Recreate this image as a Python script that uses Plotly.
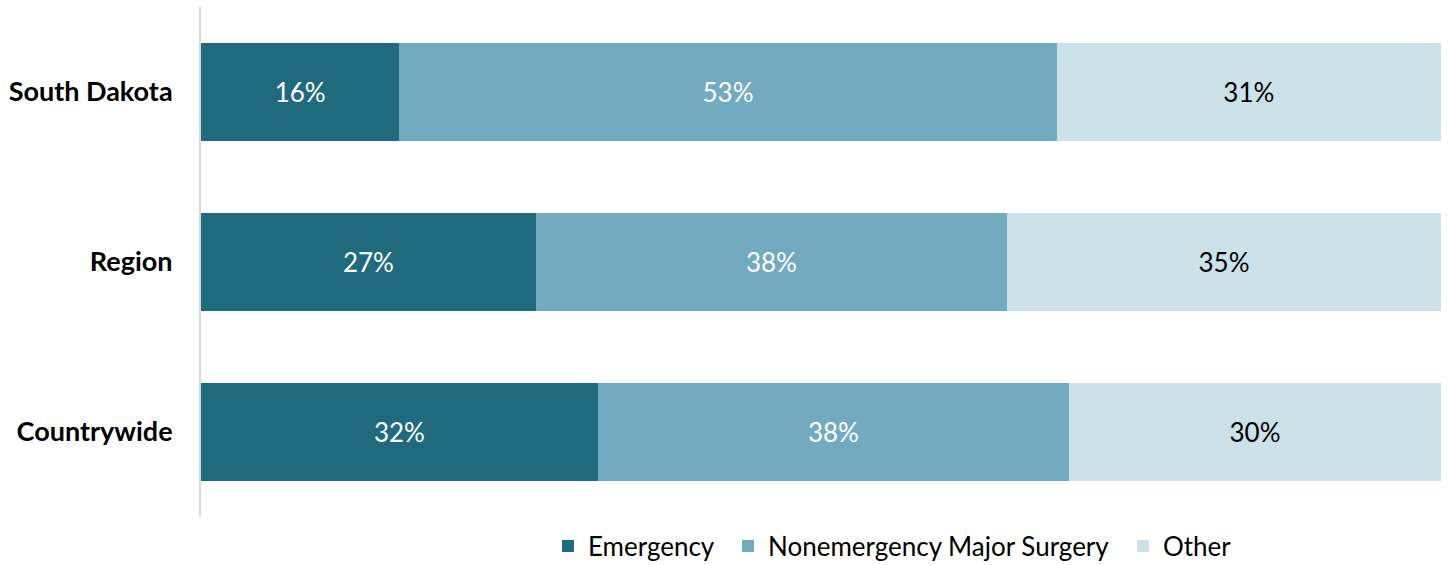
import plotly.graph_objects as go

categories = ["South Dakota", "Region", "Countrywide"]
emergency = [16, 27, 32]
nonemergency = [53, 38, 38]
other = [31, 35, 30]

series = [
    ("Emergency", emergency, "#1f6a7c", "white"),
    ("Nonemergency Major Surgery", nonemergency, "#72abbf", "white"),
    ("Other", other, "#cde1e8", "black"),
]

FONT = "Lato, Calibri, Arial, sans-serif"

# each series gets its own legend so the entries can be spaced freely
legend_ids = ["legend", "legend2", "legend3"]
legend_x = [0.2798, 0.425, 0.7435]

fig = go.Figure()
for (name, vals, color, tcolor), lid in zip(series, legend_ids):
    fig.add_trace(go.Bar(
        name=name,
        y=categories,
        x=vals,
        orientation="h",
        marker=dict(color=color, line=dict(width=0)),
        text=[f"{v}%" for v in vals],
        textposition="inside",
        insidetextanchor="middle",
        textfont=dict(color=tcolor, size=26, family=FONT),
        hoverinfo="skip",
        legend=lid,
    ))

legend_style = dict(orientation="h", xanchor="left",
                    yref="container", y=19 / 565, yanchor="middle",
                    font=dict(family=FONT, size=26, color="black"),
                    itemwidth=30, bgcolor="rgba(0,0,0,0)")

fig.update_layout(
    barmode="stack",
    bargap=0.42,
    width=1448,
    height=565,
    margin=dict(l=201, r=7, t=7, b=48, autoexpand=False),
    plot_bgcolor="white",
    paper_bgcolor="white",
    font=dict(family=FONT, size=26, color="black"),
    xaxis=dict(range=[0, 100], showgrid=False, showticklabels=False,
               zeroline=False, showline=False, fixedrange=True),
    yaxis=dict(autorange="reversed", showgrid=False, zeroline=False,
               showline=True, linecolor="#d9d9d9", linewidth=2,
               ticks="", ticklabelstandoff=21,
               tickfont=dict(family=FONT, size=27, color="black", weight="bold")),
    legend=dict(x=legend_x[0], **legend_style),
    legend2=dict(x=legend_x[1], **legend_style),
    legend3=dict(x=legend_x[2], **legend_style),
    showlegend=True,
    uniformtext=dict(minsize=10, mode="show"),
)

fig.write_html("out.html")
